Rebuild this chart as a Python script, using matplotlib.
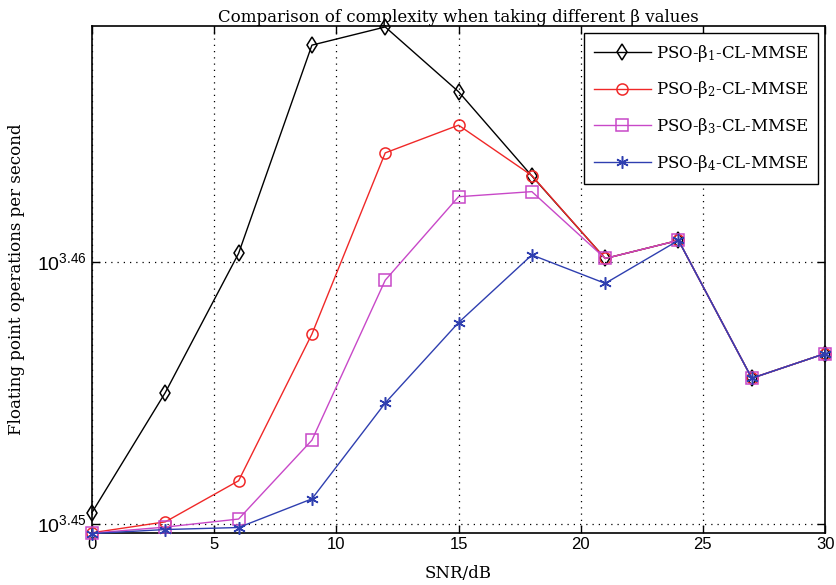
import numpy as np
import matplotlib
matplotlib.use("Agg")
import matplotlib.pyplot as plt
from matplotlib.ticker import FixedLocator, FixedFormatter, NullLocator

plt.rcParams["mathtext.fontset"] = "custom"
plt.rcParams["mathtext.rm"] = "DejaVu Serif"
plt.rcParams["mathtext.it"] = "DejaVu Serif:italic"
plt.rcParams["mathtext.sf"] = "Liberation Sans"

snr = [0, 3, 6, 9, 12, 15, 18, 21, 24, 27, 30]

flops_b1 = [2821.1, 2851.0, 2886.1, 2939.4, 2944.1, 2927.4, 2905.8, 2884.8, 2889.4, 2854.6, 2860.8]
flops_b2 = [2816.1, 2818.8, 2829.0, 2865.7, 2911.7, 2918.8, 2905.9, 2884.8, 2889.4, 2854.6, 2860.8]
flops_b3 = [2816.0, 2817.5, 2819.5, 2839.1, 2879.3, 2900.5, 2901.8, 2884.8, 2889.4, 2854.6, 2860.8]
flops_b4 = [2815.9, 2816.9, 2817.4, 2824.5, 2848.4, 2868.6, 2885.7, 2878.5, 2889.4, 2854.6, 2860.8]

series_labels = ["PSO-β$_1$-CL-MMSE", "PSO-β$_2$-CL-MMSE",
                 "PSO-β$_3$-CL-MMSE", "PSO-β$_4$-CL-MMSE"]

y_tick_exps = [3.45, 3.46]
x_ticks = [0, 5, 10, 15, 20, 25, 30]

serif = "DejaVu Serif"
sans = "Liberation Sans"

fig = plt.figure(figsize=(8.36, 5.85), dpi=100)
ax = fig.add_axes([0.110, 0.0897, 0.877, 0.8659])

styles = [
    dict(color="black", marker="d", markersize=8, markerfacecolor="none"),
    dict(color="#f02828", marker="o", markersize=8, markerfacecolor="none"),
    dict(color="#c848c8", marker="s", markersize=8, markerfacecolor="none"),
    dict(color="#2f3fb0", marker=(6, 2, 0), markersize=9),
]
for ys, lab, st in zip([flops_b1, flops_b2, flops_b3, flops_b4], series_labels, styles):
    ax.plot(snr, ys, label=lab, linewidth=1.0, markeredgewidth=1.1,
            clip_on=False, zorder=3, **st)

ax.set_yscale("log")
ax.set_xlim(0, 30)
ax.set_ylim(10 ** 3.449657, 10 ** 3.46899)

ax.xaxis.set_major_locator(FixedLocator(x_ticks))
ax.yaxis.set_major_locator(FixedLocator([10 ** e for e in y_tick_exps]))
ax.yaxis.set_major_formatter(FixedFormatter([r"$\mathsf{10^{%.2f}}$" % e for e in y_tick_exps]))
ax.yaxis.set_minor_locator(NullLocator())

ax.tick_params(direction="in", length=6, width=1, top=True, right=True, labelsize=12)
for lbl in ax.get_xticklabels():
    lbl.set_fontfamily(sans)
for lbl in ax.get_yticklabels():
    lbl.set_fontsize(14)

ax.grid(True, linestyle=(0, (1, 4)), color="black", linewidth=0.9)
for sp in ax.spines.values():
    sp.set_linewidth(1.2)

ax.set_title("Comparison of complexity when taking different β values",
             fontfamily=serif, fontsize=12, pad=3)
ax.set_xlabel("SNR/dB", fontfamily=serif, fontsize=12, labelpad=9)
ax.set_ylabel("Floating point operations per second", fontfamily=serif,
              fontsize=12)
ax.yaxis.set_label_coords(-0.091, 0.5)

leg = ax.legend(loc="upper right", prop={"family": serif, "size": 12},
                fancybox=False, framealpha=1, edgecolor="black",
                borderaxespad=0.4, handlelength=3.4, handletextpad=0.3,
                labelspacing=0.95, borderpad=0.6)
leg.get_frame().set_linewidth(1.0)

fig.savefig("out.png", dpi=100)
